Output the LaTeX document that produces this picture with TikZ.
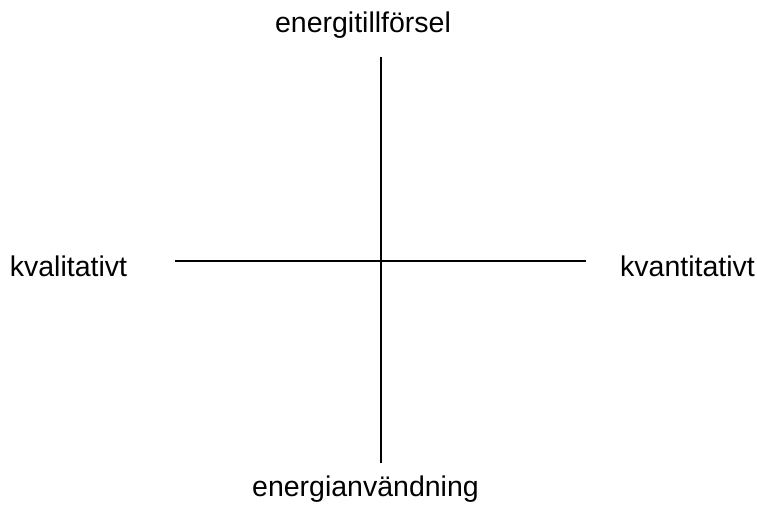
\documentclass[tikz,border=0pt]{standalone}
\usepackage{fontspec}
\setmainfont{Liberation Sans}
\begin{document}
\begin{tikzpicture}[x=1pt,y=1pt,
  lbl/.style={anchor=base,inner sep=0pt,font=\fontsize{28.5}{34}\selectfont},
  axis/.style={line width=1.1pt,black}]
\useasboundingbox (0,0) rectangle (757,506);
\node[lbl] (top) at (363,473) {energitillförsel};
\node[lbl] (bottom) at (365.5,10) {energianvändning};
\node[lbl] (left) at (68.5,229) {kvalitativt};
\node[lbl] (right) at (687.5,229) {kvantitativt};
\coordinate (vt) at (381,449);
\coordinate (vb) at (381,43);
\coordinate (hl) at (175,245);
\coordinate (hr) at (586,245);
\draw[axis] (vt) -- (vb);
\draw[axis] (hl) -- (hr);
\end{tikzpicture}
\end{document}
